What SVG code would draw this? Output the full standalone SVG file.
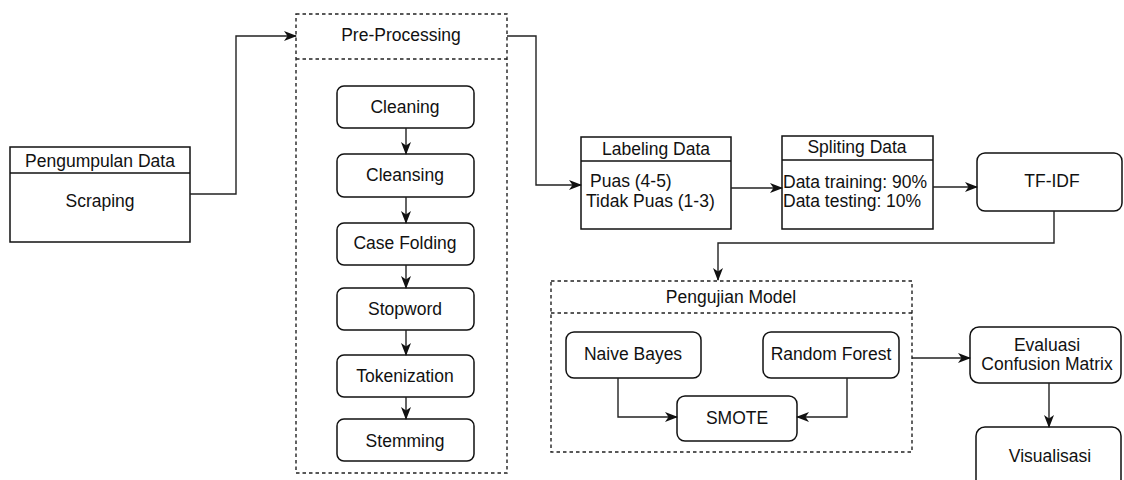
<svg xmlns="http://www.w3.org/2000/svg" width="1124" height="480" viewBox="0 0 1124 480">
<style>
text{font-family:"Liberation Sans",Arial,sans-serif;font-size:17.5px;fill:#111;dominant-baseline:central}
.c{text-anchor:middle}
.box{fill:#fff;stroke:#111;stroke-width:1.5}
.dash{fill:none;stroke:#222;stroke-width:1.4;stroke-dasharray:3.5 3}
.conn{fill:none;stroke:#222;stroke-width:1.4}
.arr{marker-end:url(#ah)}
</style>
<defs>
<marker id="ah" viewBox="0 0 13 10" refX="12" refY="5" markerWidth="13" markerHeight="10" markerUnits="userSpaceOnUse" orient="auto">
<path d="M0,0 L13,5 L0,10 L3.5,5 z" fill="#111"/>
</marker>
</defs>
<rect width="1124" height="480" fill="#fff"/>

<g id="pengumpulan">
<rect class="box" x="10" y="147" width="180" height="95"/>
<line class="box" x1="10" y1="173" x2="190" y2="173"/>
<text class="c" x="100" y="161">Pengumpulan Data</text>
<text class="c" x="100" y="201">Scraping</text>
</g>

<g id="preprocessing">
<rect class="dash" x="296" y="14" width="211" height="459"/>
<line class="dash" x1="296" y1="59" x2="507" y2="59"/>
<text class="c" x="401" y="35">Pre-Processing</text>
</g>
<g id="cleaning"><rect class="box" x="337" y="86" width="137" height="42" rx="7"/><text class="c" x="405" y="107">Cleaning</text></g>
<g id="cleansing"><rect class="box" x="337" y="154" width="137" height="43" rx="7"/><text class="c" x="405" y="175">Cleansing</text></g>
<g id="casefolding"><rect class="box" x="337" y="223" width="137" height="42" rx="7"/><text class="c" x="405" y="243">Case Folding</text></g>
<g id="stopword"><rect class="box" x="337" y="288" width="137" height="42" rx="7"/><text class="c" x="405" y="309">Stopword</text></g>
<g id="tokenization"><rect class="box" x="337" y="355" width="137" height="42" rx="7"/><text class="c" x="405" y="376">Tokenization</text></g>
<g id="stemming"><rect class="box" x="337" y="419" width="137" height="42" rx="7"/><text class="c" x="405" y="441">Stemming</text></g>

<g id="labeling">
<rect class="box" x="581" y="137" width="150" height="92"/>
<line class="box" x1="581" y1="161" x2="731" y2="161"/>
<text class="c" x="656" y="149">Labeling Data</text>
<text x="590" y="181">Puas (4-5)</text>
<text x="586" y="201">Tidak Puas (1-3)</text>
</g>

<g id="spliting">
<rect class="box" x="782" y="136" width="151" height="93"/>
<line class="box" x1="782" y1="160" x2="933" y2="160"/>
<text class="c" x="857" y="147">Spliting Data</text>
<text x="783" y="182">Data training: 90%</text>
<text x="783" y="201">Data testing: 10%</text>
</g>

<g id="tfidf"><rect class="box" x="977" y="153" width="145" height="58" rx="8"/><text class="c" x="1052" y="181">TF-IDF</text></g>

<g id="pengujian">
<rect class="dash" x="551" y="281" width="361" height="171"/>
<line class="dash" x1="551" y1="313" x2="912" y2="313"/>
<text class="c" x="731" y="297">Pengujian Model</text>
</g>
<g id="naivebayes"><rect class="box" x="566" y="332" width="135" height="46" rx="8"/><text class="c" x="633" y="354">Naive Bayes</text></g>
<g id="randomforest"><rect class="box" x="763" y="332" width="136" height="46" rx="8"/><text class="c" x="831" y="354">Random Forest</text></g>
<g id="smote"><rect class="box" x="677" y="396" width="120" height="45" rx="8"/><text class="c" x="737" y="418">SMOTE</text></g>

<g id="evaluasi"><rect class="box" x="970" y="327" width="151" height="56" rx="9"/><text class="c" x="1047" y="345">Evaluasi</text><text class="c" x="1047" y="364">Confusion Matrix</text></g>
<g id="visualisasi"><rect class="box" x="976" y="427" width="145" height="62" rx="9"/><text class="c" x="1050" y="456">Visualisasi</text></g>

<g id="connectors">
<polyline class="conn arr" points="190,194 236,194 236,36 296,36"/>
<polyline class="conn arr" points="507,36 536,36 536,185 581,185"/>
<line class="conn arr" x1="406" y1="128" x2="406" y2="154"/>
<line class="conn arr" x1="406" y1="197" x2="406" y2="223"/>
<line class="conn arr" x1="406" y1="265" x2="406" y2="288"/>
<line class="conn arr" x1="406" y1="330" x2="406" y2="355"/>
<line class="conn arr" x1="406" y1="397" x2="406" y2="419"/>
<line class="conn arr" x1="731" y1="188" x2="782" y2="188"/>
<line class="conn arr" x1="933" y1="187" x2="977" y2="187"/>
<polyline class="conn arr" points="1054,211 1054,243 718,243 718,280"/>
<polyline class="conn arr" points="618,378 618,417 677,417"/>
<polyline class="conn arr" points="847,378 847,417 797,417"/>
<line class="conn arr" x1="912" y1="358" x2="970" y2="358"/>
<line class="conn arr" x1="1049" y1="383" x2="1049" y2="427"/>
</g>
</svg>
